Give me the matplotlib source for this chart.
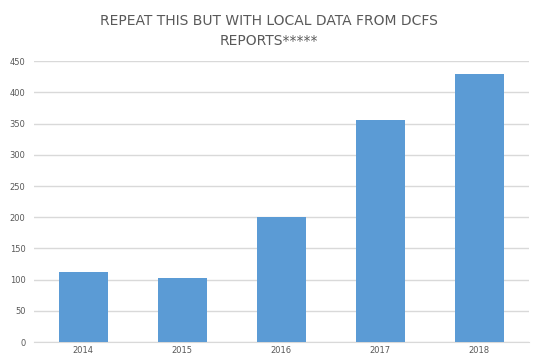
"""Bar chart of yearly counts (DCFS placeholder)"""
import matplotlib
matplotlib.use('Agg')
import matplotlib.pyplot as plt

years = ['2014', '2015', '2016', '2017', '2018']
counts = [112, 103, 200, 356, 429]
yticks = [0, 50, 100, 150, 200, 250, 300, 350, 400, 450]

plt.rcParams['font.family'] = ['DejaVu Sans']

fig = plt.figure(figsize=(5.38, 3.62), dpi=100)
ax = fig.add_axes([0.063, 0.055, 0.92, 0.776])

ax.bar(range(len(years)), counts, width=0.5, color='#5B9BD5', zorder=3)

ax.set_xlim(-0.5, len(years) - 0.5)
ax.set_ylim(0, 450)
ax.set_yticks(yticks)
ax.set_xticks(range(len(years)))
ax.set_xticklabels(years)
ax.grid(axis='y', color='#D9D9D9', linewidth=1, zorder=0)
ax.tick_params(axis='both', length=0, labelsize=6, labelcolor='#595959')
ax.tick_params(axis='x', pad=3)
ax.tick_params(axis='y', pad=6)

for side in ['top', 'right', 'left']:
    ax.spines[side].set_visible(False)
ax.spines['bottom'].set_color('#D9D9D9')

fig.text(0.5, 0.915, 'REPEAT THIS BUT WITH LOCAL DATA FROM DCFS\nREPORTS*****',
         ha='center', va='center', fontsize=10, color='#595959', linespacing=1.5)

fig.savefig('out.png', dpi=100)
